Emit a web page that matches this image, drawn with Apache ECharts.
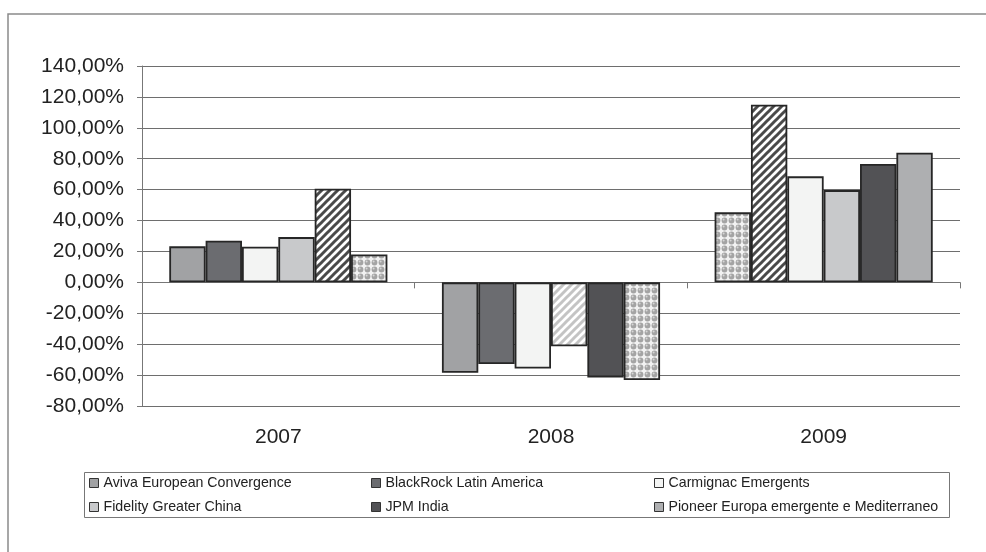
<!DOCTYPE html>
<html>
<head>
<meta charset="utf-8">
<script src="https://cdn.jsdelivr.net/npm/echarts@6/dist/echarts.min.js"></script>
<style>
html,body{margin:0;padding:0;background:#fff;}
#c{width:986px;height:552px;}
</style>
</head>
<body>
<div id="c"></div>
<script>
// ---- data ----
var categories = ['2007', '2008', '2009'];
var seriesNames = ['Aviva European Convergence', 'BlackRock Latin America', 'Carmignac Emergents',
                   'Fidelity Greater China', 'JPM India', 'Pioneer Europa emergente e Mediterraneo'];
var aviva     = [23.3, -58.5, 45.3];
var blackrock = [26.9, -52.9, 115.0];
var carmignac = [23.0, -55.7, 68.6];
var fidelity  = [29.3, -41.4, 59.7];
var jpm       = [60.6, -61.5, 76.6];
var pioneer   = [18.1, -63.2, 83.9];
var yTicks = { min: -80, max: 140, interval: 20 };

// ---- styles ----
var seriesColors = ['#a1a2a4', '#6b6c70', '#f3f4f3', '#c8c9cb', '#525255', '#aeafb1'];
var pointFills = [
  [null, null, 'dots'],
  [null, null, 'hatchDark'],
  [null, null, null],
  [null, 'hatchLight', null],
  ['hatchDark', null, null],
  ['dots', 'dots', null]
];

function hatch(fg) {
  var s = 8, c = document.createElement('canvas');
  c.width = s; c.height = s;
  var g = c.getContext('2d');
  g.fillStyle = '#ffffff'; g.fillRect(0, 0, s, s);
  g.strokeStyle = fg; g.lineWidth = 3; g.lineCap = 'square';
  [[-s, 0], [0, 0], [s, 0]].forEach(function (o) {
    g.beginPath(); g.moveTo(o[0], s); g.lineTo(o[0] + s, 0); g.stroke();
  });
  return c;
}
function dots() {
  var s = 7, c = document.createElement('canvas');
  c.width = s; c.height = s;
  var g = c.getContext('2d');
  g.fillStyle = '#f2f2f2'; g.fillRect(0, 0, s, s);
  g.fillStyle = '#a4a4a4';
  g.beginPath(); g.arc(3.5, 3.5, 2.9, 0, Math.PI * 2); g.fill();
  g.fillStyle = '#d6d6d6';
  g.beginPath(); g.arc(2.6, 2.6, 1.0, 0, Math.PI * 2); g.fill();
  return c;
}
var patterns = {
  hatchDark: { image: hatch('#4a4a4a'), repeat: 'repeat' },
  hatchLight: { image: hatch('#c4c4c4'), repeat: 'repeat' },
  dots: { image: dots(), repeat: 'repeat' }
};

var values = [aviva, blackrock, carmignac, fidelity, jpm, pioneer];
var FONT = "'Liberation Sans', Arial, sans-serif";

var series = values.map(function (vals, i) {
  return {
    name: seriesNames[i],
    type: 'bar',
    xAxisIndex: 0,
    barGap: '0%',
    barCategoryGap: '20%',
    itemStyle: { color: seriesColors[i], borderColor: '#262626', borderWidth: 1.8 },
    emphasis: { disabled: true },
    data: vals.map(function (v, j) {
      var f = pointFills[i][j];
      return f ? { value: v, itemStyle: { color: patterns[f] } } : v;
    })
  };
});

function legendCol(left, names) {
  return {
    orient: 'vertical',
    left: left,
    top: 476,
    padding: 0,
    itemGap: 10,
    itemWidth: 9,
    itemHeight: 9,
    icon: 'rect',
    selectedMode: false,
    itemStyle: { borderColor: '#333', borderWidth: 1 },
    textStyle: { fontFamily: FONT, fontSize: 14.2, color: '#222', lineHeight: 14 },
    data: names
  };
}

var chart = echarts.init(document.getElementById('c'));
chart.setOption({
  animation: false,
  backgroundColor: '#ffffff',
  grid: { left: 142, right: 26, top: 66, bottom: 146, containLabel: false },
  graphic: [
    { type: 'rect', silent: true, z: -1,
      shape: { x: 8, y: 14, width: 1100, height: 700 },
      style: { fill: 'none', stroke: '#8a8a8a', lineWidth: 1.5 } },
    { type: 'rect', silent: true, z: -1,
      shape: { x: 84.5, y: 472.5, width: 865, height: 45 },
      style: { fill: 'none', stroke: '#777', lineWidth: 1 } }
  ],
  legend: [
    legendCol(89, [seriesNames[0], seriesNames[3]]),
    legendCol(371, [seriesNames[1], seriesNames[4]]),
    legendCol(654, [seriesNames[2], seriesNames[5]])
  ],
  xAxis: [
    {
      type: 'category', data: categories, position: 'bottom',
      axisLine: { show: true, onZero: true, lineStyle: { color: '#777', width: 1 } },
      axisTick: { show: true, length: 6, interval: 0, lineStyle: { color: '#777' } },
      axisLabel: { show: false },
      splitLine: { show: false }
    },
    {
      type: 'category', data: categories, position: 'bottom',
      axisLine: { show: false, onZero: false },
      axisTick: { show: false },
      axisLabel: { show: true, margin: 21, fontFamily: FONT, fontSize: 21, color: '#222' },
      splitLine: { show: false }
    }
  ],
  yAxis: {
    type: 'value', min: yTicks.min, max: yTicks.max, interval: yTicks.interval,
    axisLine: { show: true, lineStyle: { color: '#777', width: 1 } },
    axisTick: { show: true, length: 5, lineStyle: { color: '#777' } },
    axisLabel: {
      margin: 18, fontFamily: FONT, fontSize: 21, color: '#222',
      formatter: function (v) { return v.toFixed(2).replace('.', ',') + '%'; }
    },
    splitLine: { show: true, lineStyle: { color: '#6e6e6e', width: 1 } }
  },
  series: series
});
</script>
</body>
</html>
